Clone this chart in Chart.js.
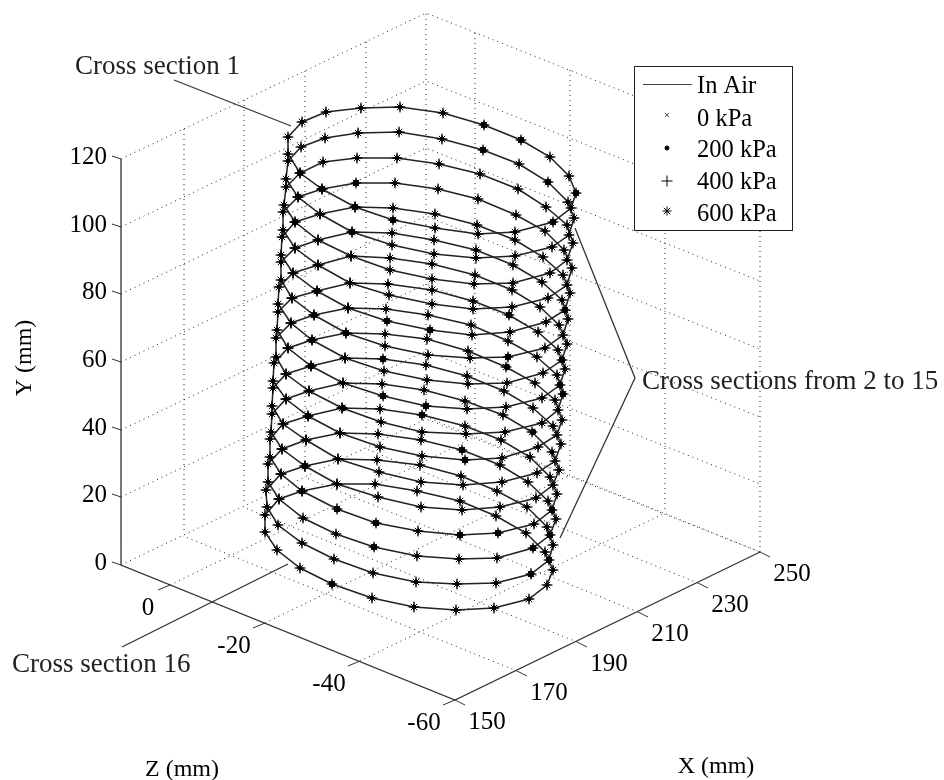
<!DOCTYPE html>
<html>
<head>
<meta charset="utf-8">
<title>Cross sections</title>
<script src="https://cdn.jsdelivr.net/npm/chart.js@4"></script>
<style>
  html, body { margin: 0; padding: 0; background: #fff; }
  canvas { display: block; }
</style>
</head>
<body>
<canvas id="crossChart" width="944" height="780"></canvas>
<script>
// the figure is a 3D view, so every value below is read off the picture in its projected position
// each ring runs left end -> back arc -> right end -> front arc -> left end
var ring1 = [[288,137],[302,122],[326,112],[361,108],[400,107],[443,113],[484,125],[521,140],[550,157],[569,176],[576,193],[571,208],[553,222],[515,232],[478,234],[435,228],[393,220],[355,207],[322,189],[300,173],[288,154]];
var ring2 = [[288,161],[301,147],[325,138],[358,133],[399,132],[442,139],[483,150],[519,164],[548,182],[568,202],[574,218],[569,235],[552,247],[515,256],[476,258],[434,254],[392,245],[352,232],[320,214],[298,197],[286,179]];
var ring3 = [[286,187],[300,173],[323,162],[357,158],[397,158],[439,164],[480,174],[518,189],[546,207],[567,225],[573,243],[567,260],[550,273],[513,283],[474,284],[432,279],[390,270],[351,256],[318,240],[295,222],[284,205]];
var ring4 = [[283,212],[298,197],[322,189],[356,183],[395,183],[438,189],[478,199],[516,215],[545,231],[564,250],[572,268],[567,285],[548,298],[512,307],[473,309],[432,304],[389,295],[350,283],[318,265],[295,248],[283,230]];
var ring5 = [[282,237],[295,222],[320,214],[355,207],[393,208],[435,214],[477,225],[515,240],[543,257],[563,275],[570,293],[565,310],[546,322],[510,332],[472,335],[430,330],[387,321],[348,308],[317,291],[293,273],[281,255]];
var ring6 = [[281,262],[295,248],[318,240],[352,232],[392,233],[434,240],[476,250],[513,265],[542,282],[562,300],[568,319],[563,335],[545,348],[508,357],[470,358],[428,355],[385,346],[346,333],[314,315],[292,298],[281,280]];
var ring7 = [[279,287],[293,273],[318,265],[351,256],[390,258],[432,264],[475,275],[512,290],[540,307],[559,325],[567,344],[562,360],[543,373],[507,383],[468,384],[427,380],[384,371],[345,358],[312,340],[291,323],[278,304]];
var ring8 = [[278,312],[292,298],[317,291],[350,283],[388,284],[432,290],[473,301],[509,315],[538,332],[558,350],[565,369],[560,385],[542,398],[506,407],[467,409],[426,406],[383,396],[343,383],[311,366],[288,348],[277,330]];
var ring9 = [[276,338],[291,323],[314,315],[348,308],[386,309],[428,315],[471,325],[508,341],[537,357],[557,375],[563,394],[558,410],[542,423],[505,432],[466,434],[422,432],[381,422],[342,408],[309,391],[286,374],[276,357]];
var ring10 = [[274,363],[288,348],[312,340],[346,333],[385,334],[427,339],[468,351],[506,367],[535,383],[555,400],[562,420],[557,435],[538,447],[502,458],[465,460],[422,456],[380,447],[340,433],[308,416],[286,399],[273,381]];
var ring11 = [[273,388],[286,374],[311,366],[345,358],[383,359],[426,365],[467,376],[504,391],[533,408],[553,426],[561,444],[555,461],[537,473],[502,482],[463,485],[421,482],[379,472],[338,459],[306,440],[283,424],[272,406]];
var ring12 = [[272,414],[286,399],[309,391],[343,383],[382,384],[424,390],[465,401],[503,415],[532,432],[552,452],[559,470],[553,485],[536,498],[500,507],[462,510],[421,507],[378,497],[337,484],[305,466],[282,449],[271,432]];
var ring13 = [[270,439],[283,424],[308,416],[342,408],[380,409],[422,415],[465,426],[501,440],[530,457],[550,477],[557,494],[552,510],[534,524],[498,533],[460,535],[418,531],[376,523],[337,509],[302,491],[281,474],[270,457]];
var ring14 = [[268,464],[282,449],[306,440],[340,433],[378,434],[421,440],[462,450],[500,465],[528,482],[548,501],[556,519],[550,535],[533,548],[497,558],[459,559],[417,556],[374,547],[336,534],[303,518],[279,499],[268,482]];
var ring15 = [[266,490],[281,474],[305,466],[338,459],[377,460],[420,465],[461,476],[497,491],[527,507],[547,527],[553,545],[549,560],[531,574],[496,583],[457,584],[416,582],[373,573],[334,559],[302,543],[278,525],[267,507]];
var ring16 = [[265,515],[279,499],[302,491],[337,484],[375,484],[417,491],[460,501],[496,516],[526,533],[545,552],[553,570],[547,585],[529,599],[494,608],[456,610],[414,607],[372,598],[332,584],[300,568],[277,550],[265,532]];
var rings = [ring1, ring2, ring3, ring4, ring5, ring6, ring7, ring8, ring9, ring10, ring11, ring12, ring13, ring14, ring15, ring16];

// points where the four pressure markers spread apart and clump into a blob
var clumps = [[484,125],[521,140],[483,150],[548,182],[356,183],[322,189],[298,197],[300,173],[355,207],[295,222],[393,220],[352,232],[576,193],[553,222],
  [317,291],[314,315],[312,340],[311,366],[346,333],[387,321],[430,330],[509,315],[508,357],[507,367],[383,359],[383,396],[426,406],[422,415],[343,408],[533,432],[565,310],[562,360],[560,385],[563,394],[308,416],
  [462,450],[465,460],[337,509],[376,523],[374,547],[460,535],[498,533],[533,548],[531,574],[332,584],[552,510],[550,535],[549,560],[302,491],[305,466]];

// tick labels and where the ticks land on the three drawn axes
var yLabels = ["0", "20", "40", "60", "80", "100", "120"];
var yTickPos = [565, 497, 430, 362, 294, 227, 159];
var xLabels = ["150", "170", "190", "210", "230", "250"];
var xTickPos = [[455,700],[517,671],[577,642],[638,612],[698,583],[760,552]];
var zLabels = ["0", "-20", "-40", "-60"];
var zTickPos = [[170,585],[265,623],[360,661],[455,700]];
var legendNames = ["In Air", "0 kPa", "200 kPa", "400 kPa", "600 kPa"];

var FONT = '"Liberation Serif", "Times New Roman", serif';

function toPts(list) {
  return list.map(function (p) {
    return { x: p[0], y: p[1] };
  });
}

function seg(list, dash, width) {
  return {
    type: "scatter",
    data: toPts(list),
    showLine: true,
    borderColor: dash ? "#222" : "#333",
    borderWidth: width || 1,
    borderDash: dash ? [1, 4] : [],
    pointRadius: 0,
    tension: 0,
    order: dash ? 20 : 10,
  };
}

var datasets = [];

/** 점선 격자 - 벽 두개와 바닥 */
yTickPos.forEach(function (y) {
  datasets.push(seg([[121, y], [426, y - 146], [760, y - 13]], true));
});
[184, 244, 305, 366, 426].forEach(function (x, i) {
  var top = [129, 100, 71, 42, 14][i];
  datasets.push(seg([[x, top], [x, 534 - (i * 29)]], true));
});
[475, 570, 665, 760].forEach(function (x, i) {
  var top = [33, 70, 108, 146][i];
  datasets.push(seg([[x, top], [x, [437, 475, 513, 552][i]]], true));
});
xTickPos.slice(1).forEach(function (p) {
  datasets.push(seg([p, [p[0] - 334, p[1] - 135]], true));
});
zTickPos.slice(0, 3).forEach(function (p) {
  datasets.push(seg([p, [p[0] + 305, p[1] - 148]], true));
});

/** 축과 눈금 */
datasets.push(seg([[121, 159], [121, 565], [455, 700], [760, 552]], false, 1.3));
yTickPos.forEach(function (y) {
  datasets.push(seg([[121, y], [112, y - 3]]));
});
xTickPos.forEach(function (p) {
  datasets.push(seg([p, [p[0] + 10, p[1] + 5]]));
});
zTickPos.forEach(function (p) {
  datasets.push(seg([p, [p[0] - 12, p[1] + 5]]));
});

/** 주석 선 */
datasets.push(seg([[174, 80], [291, 126]], false, 1.3));
datasets.push(seg([[575, 228], [635, 378], [560, 538]], false, 1.3));
datasets.push(seg([[122, 647], [288, 564]], false, 1.3));

/** In Air 선 */
rings.forEach(function (r) {
  var d = seg(r.concat([r[0]]), false, 1.5);
  d.borderColor = "#222";
  d.order = 5;
  datasets.push(d);
});

/** 압력별 마커 */
var allPts = toPts([].concat.apply([], rings));
var markerStyles = [
  { pointStyle: "crossRot", radius: 3 },
  { pointStyle: "circle", radius: 2 },
  { pointStyle: "cross", radius: 5.5 },
  { pointStyle: "star", radius: 4.5 },
];
markerStyles.forEach(function (m, i) {
  datasets.push({
    type: "scatter",
    label: legendNames[i + 1],
    data: allPts,
    showLine: false,
    pointStyle: m.pointStyle,
    pointRadius: m.radius,
    pointBorderColor: "#000",
    pointBackgroundColor: "#000",
    pointBorderWidth: 1,
    order: 1,
  });
});
datasets.push({
  type: "scatter",
  data: toPts(clumps),
  showLine: false,
  pointStyle: "circle",
  pointRadius: 3.2,
  pointBorderWidth: 0,
  pointBackgroundColor: "#000",
  order: 1,
});

function put(ctx, chart, text, x, y, size, align) {
  ctx.font = size + "px " + FONT;
  ctx.textAlign = align || "center";
  ctx.textBaseline = "middle";
  ctx.fillText(text, chart.scales.x.getPixelForValue(x), chart.scales.y.getPixelForValue(y));
}

var textPlugin = {
  id: "textPlugin",
  afterDatasetsDraw: function (chart) {
    var ctx = chart.ctx;
    ctx.save();
    ctx.fillStyle = "#000";

    yLabels.forEach(function (t, i) {
      put(ctx, chart, t, 107, yTickPos[i] - 2, 25, "right");
    });
    xLabels.forEach(function (t, i) {
      put(ctx, chart, t, xTickPos[i][0] + 32, xTickPos[i][1] + 22, 25);
    });
    zLabels.forEach(function (t, i) {
      put(ctx, chart, t, zTickPos[i][0] - 31 + (i === 0 ? 9 : 0), zTickPos[i][1] + 23, 25);
    });

    put(ctx, chart, "X (mm)", 716, 767, 24);
    put(ctx, chart, "Z (mm)", 182, 770, 24);
    ctx.save();
    ctx.translate(25, 358);
    ctx.rotate(-Math.PI / 2);
    ctx.font = "24px " + FONT;
    ctx.textAlign = "center";
    ctx.textBaseline = "middle";
    ctx.fillText("Y (mm)", 0, 0);
    ctx.restore();

    ctx.fillStyle = "#222";
    put(ctx, chart, "Cross section 1", 75, 67, 27, "left");
    put(ctx, chart, "Cross section 16", 12, 665, 27, "left");
    put(ctx, chart, "Cross sections from 2 to 15", 642, 382, 27, "left");

    // 범례 박스
    ctx.fillStyle = "#fff";
    ctx.strokeStyle = "#222";
    ctx.lineWidth = 1;
    ctx.fillRect(634.5, 66.5, 158, 164);
    ctx.strokeRect(634.5, 66.5, 158, 164);
    ctx.strokeStyle = "#444";
    ctx.beginPath();
    ctx.moveTo(643, 84.5);
    ctx.lineTo(692, 84.5);
    ctx.stroke();

    var rowY = [87, 120, 151, 183, 215];
    var markY = [0, 115, 148, 181, 211];
    ctx.fillStyle = "#000";
    legendNames.forEach(function (t, i) {
      put(ctx, chart, t, 697, rowY[i], 24.5, "left");
      if (i > 0) {
        var m = markerStyles[i - 1];
        ctx.strokeStyle = i === 1 ? "#555" : "#000";
        Chart.helpers.drawPoint(ctx, { pointStyle: m.pointStyle, radius: m.radius, rotation: 0, borderWidth: 1 }, 667, markY[i]);
      }
    });
    ctx.restore();
  },
};

window.addEventListener("DOMContentLoaded", function () {
  var ctx = document.getElementById("crossChart");
  new Chart(ctx, {
    data: { datasets: datasets },
    plugins: [textPlugin],
    options: {
      responsive: false,
      animation: false,
      layout: { padding: 0, autoPadding: false },
      plugins: { legend: { display: false }, tooltip: { enabled: false } },
      scales: {
        x: { type: "linear", min: 0, max: 944, display: false },
        y: { type: "linear", min: 0, max: 780, reverse: true, display: false },
      },
    },
  });
});
</script>
</body>
</html>
